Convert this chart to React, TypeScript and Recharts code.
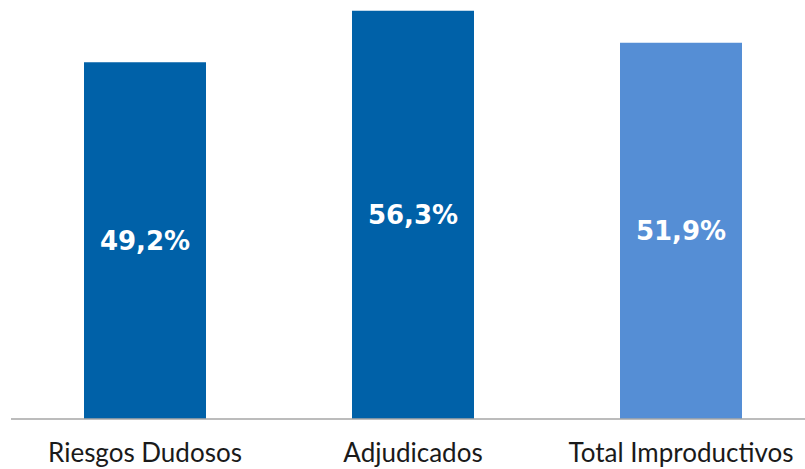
import { BarChart, Bar, XAxis, YAxis, Cell, LabelList } from 'recharts';

const categories = ['Riesgos Dudosos', 'Adjudicados', 'Total Improductivos'];
const values = [49.2, 56.3, 51.9];
const barColors = ['#0061A8', '#0061A8', '#558ED5'];

const data = categories.map((name, i) => ({ name, value: values[i] }));

const fmt = (v: any) => `${Number(v).toFixed(1).replace('.', ',')}%`;

const App = () => {
  return (
    <div style={{ position: 'absolute', left: 0, top: 0, width: 805, height: 469, overflow: 'hidden', background: '#fff' }}>
      <BarChart
        width={815}
        height={469}
        data={data}
        margin={{ top: 0, right: 0, bottom: 0, left: 11 }}
        barCategoryGap={73}
      >
        <XAxis
          dataKey="name"
          height={50}
          tickLine={false}
          tickSize={0}
          tickMargin={25}
          axisLine={{ stroke: '#A6A6A6', strokeWidth: 1.5 }}
          tick={{ fill: '#1a1a1a', fontSize: 26, fontFamily: 'Lato' }}
          interval={0}
        />
        <YAxis hide domain={[0, 57.8]} />
        <Bar dataKey="value" barSize={122} isAnimationActive={false}>
          {data.map((d, i) => (
            <Cell key={d.name} fill={barColors[i]} />
          ))}
          <LabelList
            dataKey="value"
            position="center"
            formatter={fmt}
            fill="#ffffff"
            style={{ fontSize: 26, fontWeight: 700, fontFamily: 'DejaVu Sans' }}
          />
        </Bar>
      </BarChart>
    </div>
  );
};

export default App;
